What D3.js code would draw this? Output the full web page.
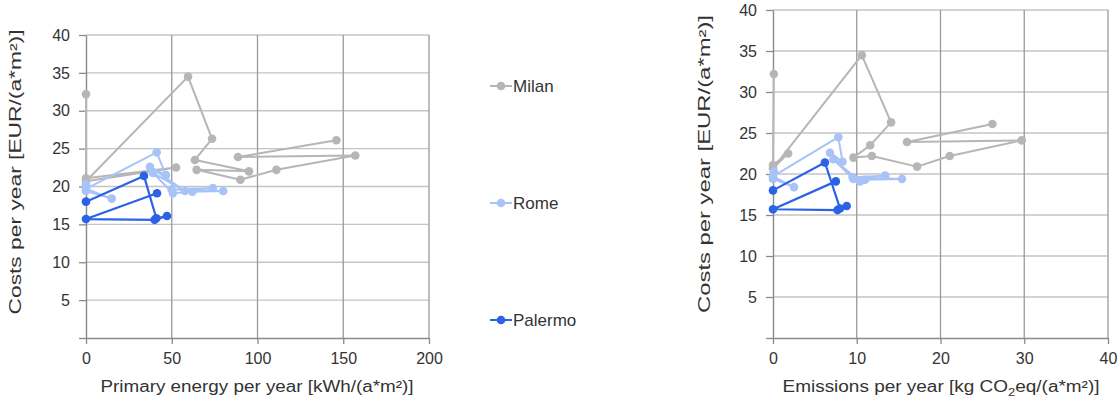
<!DOCTYPE html>
<html>
<head>
<meta charset="utf-8">
<script src="https://cdn.jsdelivr.net/npm/d3@7"></script>
<style>
  html, body { margin: 0; padding: 0; background: #fff; }
  svg { display: block; }
  text { font-family: "Liberation Sans", Arial, sans-serif; fill: #333; }
</style>
</head>
<body>
<svg id="chart" width="1120" height="401"></svg>
<script>
// ---------------- data ----------------
const cities = ["Milan", "Rome", "Palermo"];
const cityColors = ["#b6b6b6", "#a8c3f7", "#2c62e6"];

// Milan (same scenario order in both charts)
const milanCost      = [32.2, 21.1, 22.5, 20.7, 34.5, 26.3, 23.5, 22.0, 22.2, 20.9, 22.2, 24.1, 23.9, 26.1];
const milanEnergy    = [0, 0, 52.5, 0, 59.5, 73.5, 63.5, 95, 64.5, 90, 111, 157, 88.6, 146];
const milanEmissions = [0.1, 0, 1.8, 0, 10.6, 14.1, 11.6, 9.6, 11.8, 17.2, 21.1, 29.7, 16, 26.2];

// Rome
const romeCost      = [20.3, 19.4, 18.4, 19.7, 24.5, 21.5, 22.6, 19.4, 21.8, 19.1, 19.3, 19.4, 19.6, 19.8];
const romeEnergy    = [0, 0, 15, 0, 41.2, 46.6, 37.3, 57.7, 39, 50.7, 62, 80, 50, 74];
const romeEmissions = [0.1, 0, 2.5, 0, 7.8, 8.3, 6.8, 9.6, 7.2, 10.4, 11, 15.4, 9.5, 13.4];

// Palermo
const palermoCost      = [19.1, 15.7, 15.6, 16.1, 15.8, 21.4, 18.0];
const palermoEnergy    = [41.4, 0, 40, 47.2, 41, 33.8, 0];
const palermoEmissions = [7.5, 0, 7.7, 8.8, 8.0, 6.2, 0];

// axes
const yTicks = [0, 5, 10, 15, 20, 25, 30, 35, 40];
const xTicksEnergy = [0, 50, 100, 150, 200];
const xTicksEmissions = [0, 10, 20, 30, 40];

const yTitle = "Costs per year [EUR/(a*m²)]";

// ---------------- drawing ----------------
const svg = d3.select("#chart");

function panel(opts) {
  const { x, y, xTicks, xVals, title } = opts;
  const g = svg.append("g");
  const [x0, x1] = x.range();
  const [y0, y1] = y.range();

  // horizontal grid
  g.append("g").selectAll("line").data(yTicks.filter(d => d > 0)).join("line")
    .attr("x1", x0).attr("x2", x1)
    .attr("y1", d => y(d)).attr("y2", d => y(d))
    .attr("stroke", "#c4c4c4").attr("stroke-width", 1.3);
  // vertical grid
  g.append("g").selectAll("line").data(xTicks.filter(d => d > 0)).join("line")
    .attr("x1", d => x(d)).attr("x2", d => x(d))
    .attr("y1", y0).attr("y2", y1)
    .attr("stroke", "#9a9a9a").attr("stroke-width", 1.3);

  // y axis
  const ya = g.append("g").attr("transform", `translate(${x0},0)`)
    .call(d3.axisLeft(y).tickValues(yTicks).tickSize(7).tickSizeOuter(0).tickPadding(9)
      .tickFormat(d => d === 0 ? "" : d));
  // x axis
  const xa = g.append("g").attr("transform", `translate(0,${y0})`)
    .call(d3.axisBottom(x).tickValues(xTicks).tickSize(6).tickSizeOuter(0).tickPadding(9)
      .tickFormat(d => d));
  [ya, xa].forEach(a => {
    a.select(".domain").attr("stroke", "#8a8a8a").attr("stroke-width", 1.4);
    a.selectAll(".tick line").attr("stroke", "#8a8a8a").attr("stroke-width", 1.3);
    a.selectAll(".tick text").style("font-family", "Liberation Sans, Arial, sans-serif")
      .style("font-size", "16px").attr("fill", "#333");
  });

  // series
  const series = [
    { cost: milanCost, xs: xVals[0], color: cityColors[0], w: 2 },
    { cost: romeCost, xs: xVals[1], color: cityColors[1], w: 2 },
    { cost: palermoCost, xs: xVals[2], color: cityColors[2], w: 2.2 }
  ];
  const line = d3.line().x(d => x(d[0])).y(d => y(d[1]));
  series.forEach(s => {
    const pts = s.xs.map((v, i) => [v, s.cost[i]]);
    g.append("path").datum(pts).attr("d", line)
      .attr("fill", "none").attr("stroke", s.color).attr("stroke-width", s.w)
      .attr("stroke-linejoin", "round");
    g.append("g").selectAll("circle").data(pts).join("circle")
      .attr("cx", d => x(d[0])).attr("cy", d => y(d[1])).attr("r", 4.3)
      .attr("fill", s.color);
  });

  // y title
  g.append("text")
    .attr("transform", `translate(${opts.yTitleX},${opts.yTitleY}) rotate(-90)`)
    .attr("text-anchor", "middle").style("font-size", "16px")
    .attr("textLength", opts.yTitleLen).attr("lengthAdjust", "spacingAndGlyphs")
    .text(yTitle);

  // x title
  const xt = g.append("text")
    .attr("x", opts.xTitleX).attr("y", 392)
    .attr("text-anchor", "middle").style("font-size", "16px")
    .attr("textLength", opts.xTitleLen).attr("lengthAdjust", "spacingAndGlyphs");
  title.forEach(part => {
    const t = xt.append("tspan").text(part.t);
    if (part.sub) t.style("font-size", "11px").attr("dy", 4);
    if (part.after) t.attr("dy", -4);
  });
}

const xL = d3.scaleLinear().domain([0, 200]).range([86, 429]);
const yL = d3.scaleLinear().domain([0, 40]).range([338, 35]);
const xR = d3.scaleLinear().domain([0, 40]).range([773, 1108]);
const yR = d3.scaleLinear().domain([0, 40]).range([338, 10]);

panel({
  x: xL, y: yL, xTicks: xTicksEnergy,
  xVals: [milanEnergy, romeEnergy, palermoEnergy],
  title: [{ t: "Primary energy per year [kWh/(a*m²)]" }],
  xTitleX: 257, xTitleLen: 313, yTitleX: 21, yTitleY: 172, yTitleLen: 285
});
panel({
  x: xR, y: yR, xTicks: xTicksEmissions,
  xVals: [milanEmissions, romeEmissions, palermoEmissions],
  title: [{ t: "Emissions per year [kg CO" }, { t: "2", sub: true }, { t: "eq/(a*m²)]", after: true }],
  xTitleX: 941, xTitleLen: 317, yTitleX: 710, yTitleY: 164, yTitleLen: 298
});

// legend
const legendY = [86, 203, 320];
const lg = svg.append("g");
cities.forEach((c, i) => {
  const row = lg.append("g").attr("transform", `translate(0,${legendY[i]})`);
  row.append("line").attr("x1", 490).attr("x2", 512).attr("y1", 0).attr("y2", 0)
    .attr("stroke", cityColors[i]).attr("stroke-width", 2);
  row.append("circle").attr("cx", 501).attr("cy", 0).attr("r", 4.3).attr("fill", cityColors[i]);
  row.append("text").attr("x", 513).attr("y", 6).style("font-size", "17px").text(c);
});
</script>
</body>
</html>
